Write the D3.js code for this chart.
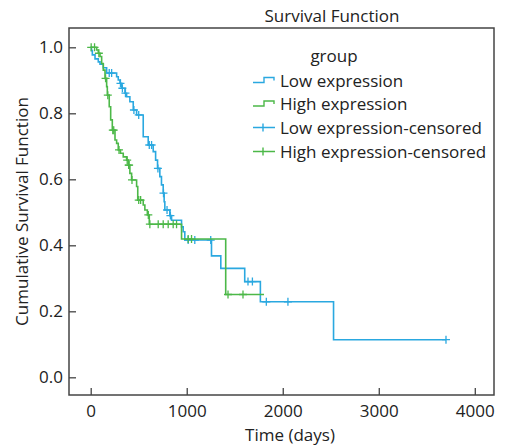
<!DOCTYPE html>
<html>
<head>
<meta charset="utf-8">
<script src="https://cdn.jsdelivr.net/npm/d3@7"></script>
<style>
  body { margin: 0; background: #fff; }
  text { font-family: "Open Sans", sans-serif; fill: #222; }
</style>
</head>
<body>
<svg width="505" height="448"></svg>
<script>
// step curves: time of each drop and the survival after it (first point is the start)
var lowTimes = [0, 8, 17, 45, 79, 97, 131, 166, 270, 287, 305, 322, 357, 374, 408, 443, 478,
    547, 599, 651, 676, 696, 720, 737, 755, 765, 772, 824, 842, 946, 963, 980, 1258, 1355,
    1604, 1767, 2529, 3700];
var lowSurv = [1.0, 0.99, 0.977, 0.965, 0.956, 0.949, 0.938, 0.922, 0.911, 0.901, 0.891, 0.876,
    0.861, 0.85, 0.835, 0.81, 0.795, 0.729, 0.704, 0.684, 0.658, 0.633, 0.608, 0.583, 0.558,
    0.532, 0.507, 0.49, 0.476, 0.456, 0.441, 0.416, 0.368, 0.33, 0.29, 0.229, 0.114, 0.114];
var lowCensored = [193, 218, 310, 330, 362, 450, 500, 610, 634, 700, 758, 795, 830, 1015, 1084,
    1250, 1638, 1684, 1829, 2054, 3700];

var highTimes = [0, 62, 79, 97, 114, 131, 149, 166, 173, 193, 208, 225, 253, 270, 287, 310, 339,
    374, 391, 408, 426, 478, 490, 547, 564, 590, 610, 946, 1406, 1805];
var highSurv = [1.0, 0.992, 0.982, 0.972, 0.951, 0.931, 0.906, 0.881, 0.855, 0.82, 0.78, 0.749,
    0.719, 0.709, 0.689, 0.679, 0.668, 0.658, 0.643, 0.618, 0.598, 0.578, 0.537, 0.522, 0.507,
    0.492, 0.464, 0.419, 0.251, 0.251];
var highCensored = [5, 40, 85, 155, 178, 230, 240, 295, 380, 395, 400, 430, 500, 520, 600, 616,
    703, 755, 807, 859, 894, 1015, 1050, 1430, 1586];

var xTicks = [0, 1000, 2000, 3000, 4000];
var yTicks = [0, 0.2, 0.4, 0.6, 0.8, 1.0];
var groupNames = ['Low expression', 'High expression', 'Low expression-censored', 'High expression-censored'];
var colors = { low: '#2aa8e0', high: '#4cb848' };

var svg = d3.select('svg'),
    margin = { top: 28, right: 11, bottom: 53, left: 69 },
    width = 505 - margin.left - margin.right,
    height = 448 - margin.top - margin.bottom,
    fontSize = '17px';

var x = d3.scaleLinear().domain([-226, 4200]).range([0, width]),
    y = d3.scaleLinear().domain([-0.0536, 1.0585]).range([height, 0]);

var g = svg.append('g').attr('transform', 'translate(' + margin.left + ',' + margin.top + ')');

function pairs(times, surv) {
    return times.map(function (t, i) { return [t, surv[i]]; });
}

function survAt(times, surv, t) {
    var s = surv[0];
    for (var i = 0; i < times.length; i++) {
        if (times[i] <= t) s = surv[i];
    }
    return s;
}

var line = d3.line()
    .x(function (d) { return x(d[0]); })
    .y(function (d) { return y(d[1]); })
    .curve(d3.curveStepAfter);

function drawGroup(times, surv, censored, color) {
    g.append('path')
        .datum(pairs(times, surv))
        .attr('d', line)
        .attr('fill', 'none')
        .attr('stroke', color)
        .attr('stroke-width', 1.6);

    var marks = g.append('g').selectAll('g')
        .data(censored)
        .enter().append('g')
        .attr('transform', function (t) {
            return 'translate(' + x(t) + ',' + y(survAt(times, surv, t)) + ')';
        });
    marks.append('path')
        .attr('d', 'M-4,0H4M0,-4V4')
        .attr('stroke', color)
        .attr('stroke-width', 1.3);
}

drawGroup(lowTimes, lowSurv, lowCensored, colors.low);
drawGroup(highTimes, highSurv, highCensored, colors.high);

// axes, ticks point inward
var xAxis = g.append('g')
    .attr('transform', 'translate(0,' + height + ')')
    .call(d3.axisBottom(x).tickValues(xTicks).tickFormat(d3.format('d'))
        .tickSizeInner(-7).tickSizeOuter(0).tickPadding(10));
var yAxis = g.append('g')
    .call(d3.axisLeft(y).tickValues(yTicks).tickFormat(d3.format('.1f'))
        .tickSizeInner(-7).tickSizeOuter(0).tickPadding(6));

[xAxis, yAxis].forEach(function (a) {
    a.selectAll('.domain').remove();
    a.selectAll('line').attr('stroke', '#444').attr('stroke-width', 1.3);
    a.selectAll('text').style('font-size', fontSize).style('font-family', '"Open Sans", sans-serif').attr('fill', '#222');
});

g.append('rect')
    .attr('width', width)
    .attr('height', height)
    .attr('fill', 'none')
    .attr('stroke', '#444')
    .attr('stroke-width', 1.5);

svg.append('text')
    .attr('x', 332)
    .attr('y', 22)
    .attr('text-anchor', 'middle')
    .style('font-size', fontSize)
    .text('Survival Function');

svg.append('text')
    .attr('x', 290)
    .attr('y', 441)
    .attr('text-anchor', 'middle')
    .style('font-size', fontSize)
    .text('Time (days)');

svg.append('text')
    .attr('transform', 'translate(28,' + (margin.top + height / 2) + ') rotate(-90)')
    .attr('text-anchor', 'middle')
    .style('font-size', fontSize)
    .text('Cumulative Survival Function');

// legend
var legend = svg.append('g').attr('transform', 'translate(253,0)');
legend.append('text')
    .attr('x', 81)
    .attr('y', 62)
    .attr('text-anchor', 'middle')
    .style('font-size', fontSize)
    .text('group');

var rowY = [80.5, 104, 127.5, 151.5];
var rowColor = [colors.low, colors.high, colors.low, colors.high];
groupNames.forEach(function (name, i) {
    var cy = rowY[i];
    var d = i < 2
        ? 'M0,' + (cy + 2) + 'H11V' + (cy - 3) + 'H21V' + (cy)
        : 'M0,' + cy + 'H22M10,' + (cy - 4) + 'V' + (cy + 4);
    legend.append('path')
        .attr('d', d)
        .attr('fill', 'none')
        .attr('stroke', rowColor[i])
        .attr('stroke-width', 1.4);
    legend.append('text')
        .attr('x', 27)
        .attr('y', cy + 6)
        .style('font-size', fontSize)
        .text(name);
});
</script>
</body>
</html>
